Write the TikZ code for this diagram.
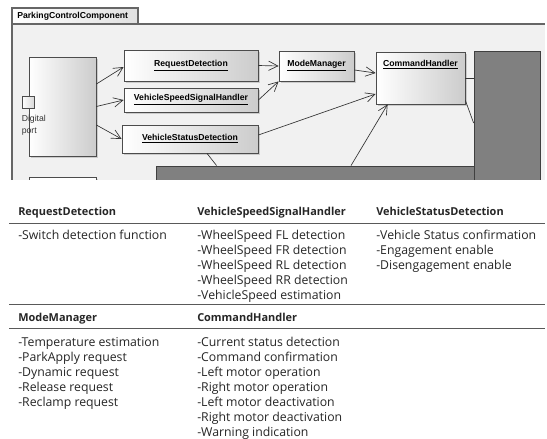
\documentclass[tikz,border=0pt]{standalone}
\usepackage{fontspec}
\setmainfont{Open Sans}
\newfontfamily\umlfont{Liberation Sans}
\usetikzlibrary{arrows.meta,calc,shadows}
\definecolor{framebg}{HTML}{F1F1F1}
\definecolor{darkfill}{HTML}{808080}
\definecolor{txtcol}{HTML}{262626}
\begin{document}
\begin{tikzpicture}[x=0.75pt,y=-0.75pt,
  umlbox/.style={draw=black!70, line width=0.6pt, left color=white, right color=black!20,
    inner sep=0pt, font=\umlfont\bfseries\fontsize{6.5}{8}\selectfont,
    drop shadow={shadow xshift=1.2pt, shadow yshift=-1.2pt, fill=black!35, opacity=0.5}},
  portbox/.style={draw=black!70, line width=0.6pt, left color=white, right color=black!15, inner sep=0pt},
  darkbox/.style={draw=black!75, fill=darkfill, line width=0.6pt, inner sep=0pt},
  umltxt/.style={inner sep=0pt, font=\umlfont\bfseries\fontsize{6.5}{8}\selectfont},
  plaintxt/.style={inner sep=0pt, font=\umlfont\fontsize{6.5}{9}\selectfont, text=black!80},
  conn/.style={draw=black!80, line width=0.5pt, -{Straight Barb[length=7pt,width=7pt]}},
  plainline/.style={draw=black!80, line width=0.5pt},
  tline/.style={draw=black!65, line width=1pt},
  hdr/.style={anchor=base west, inner sep=0pt, font=\bfseries\fontsize{8.2}{11.25}\selectfont, text=txtcol},
  lst/.style={anchor=north west, inner sep=0pt, align=left, font=\fontsize{9.2}{11.25}\selectfont, text=txtcol}]
\useasboundingbox (0,0) rectangle (547,439);
\fill[white] (0,0) rectangle (547,439);

\begin{scope}
\clip (0,0) rectangle (547,179.5);
% frame
\fill[framebg] (12,24) rectangle (545,180);
\draw[draw=black!60, line width=0.8pt] (12,180) -- (12,24) -- (545,24);
\node[draw=black!60, line width=0.8pt, left color=white, right color=black!12, minimum width=94.5pt, minimum height=12pt, inner sep=0pt] (tab) at (75,16) {};
\node[umltxt, anchor=west] (tabtxt) at (17,16) {ParkingControlComponent};

% boxes
\node[umlbox, minimum width=50.25pt, minimum height=74.25pt] (big) at (62.5,106.5) {};
\node[portbox, minimum size=9pt] (port) at (28,102) {};
\node[plaintxt, anchor=north west, align=left] (dig) at (21.5,114.5) {Digital\\port};
\node[umlbox, minimum width=50.25pt, minimum height=22.5pt, left color=white, right color=white] (bot) at (62.5,192) {};
\node[umlbox, minimum width=100.5pt, minimum height=23.25pt] (rd) at (191,65.5) {\underline{RequestDetection}};
\node[umlbox, minimum width=100.5pt, minimum height=18pt] (vssh) at (191,100) {\underline{VehicleSpeedSignalHandler}};
\node[umlbox, minimum width=102pt, minimum height=21pt] (vsd) at (190,139) {\underline{VehicleStatusDetection}};
\node[umlbox, minimum width=56.25pt, minimum height=22.5pt] (mm) at (316.5,66) {\underline{ModeManager}};
\node[umlbox, minimum width=66.75pt, minimum height=39pt] (ch) at (420.5,78) {};
\node[umltxt] (chl) at (420.5,65) {\underline{CommandHandler}};
\node[darkbox, minimum width=238.5pt, minimum height=21.75pt] (db) at (315,180.5) {};
\node[darkbox, minimum width=49.5pt, minimum height=108pt] (dr) at (507,123) {};

% connectors
\draw[conn] ($(big.east)+(0,-22.5)$) -- ($(rd.west)+(0,1.5)$);
\draw[conn] (big.east) -- (vssh.west);
\draw[conn] ($(big.east)+(0,18.5)$) -- (vsd.west);
\draw[conn] (rd.east) -- (mm.west);
\draw[conn] (vssh.east) -- (mm.south west);
\draw[conn] ($(vsd.east)+(0,-4)$) -- ($(ch.west)+(0,16)$);
\draw[conn] ($(mm.east)+(0,4)$) -- ($(ch.west)+(0,-5)$);
\draw[conn] ($(db.north)+(36,0)$) -- ($(ch.south west)+(12,0)$);
\draw[plainline] ($(vsd.south)+(17,0)$) -- ($(db.north west)+(61,0)$);
\draw[plainline] (ch.east) -- (ch.east -| dr.west);
\draw[plainline] ($(ch.south east)+(0,-4)$) -- (dr.west);
\end{scope}

% table
\draw[tline] (9,223.5) -- (545,223.5);
\draw[tline] (9,304.5) -- (545,304.5);
\draw[tline] (9,328.5) -- (545,328.5);

\node[hdr] (h1) at (18,215.5) {RequestDetection};
\node[hdr] (h2) at (197,215.5) {VehicleSpeedSignalHandler};
\node[hdr] (h3) at (376,215.5) {VehicleStatusDetection};
\node[hdr] (h4) at (18,321) {ModeManager};
\node[hdr] (h5) at (197,321) {CommandHandler};

\node[lst] (l1) at (18,229.7) {\rule{0pt}{7pt}-Switch detection function};
\node[lst] (l2) at (197,229.7) {\rule{0pt}{7pt}-WheelSpeed FL detection\\-WheelSpeed FR detection\\-WheelSpeed RL detection\\-WheelSpeed RR detection\\-VehicleSpeed estimation};
\node[lst] (l3) at (376,229.7) {\rule{0pt}{7pt}-Vehicle Status confirmation\\-Engagement enable\\-Disengagement enable};
\node[lst] (l4) at (18,336.7) {\rule{0pt}{7pt}-Temperature estimation\\-ParkApply request\\-Dynamic request\\-Release request\\-Reclamp request};
\node[lst] (l5) at (197,336.7) {\rule{0pt}{7pt}-Current status detection\\-Command confirmation\\-Left motor operation\\-Right motor operation\\-Left motor deactivation\\-Right motor deactivation\\-Warning indication};
\end{tikzpicture}
\end{document}
